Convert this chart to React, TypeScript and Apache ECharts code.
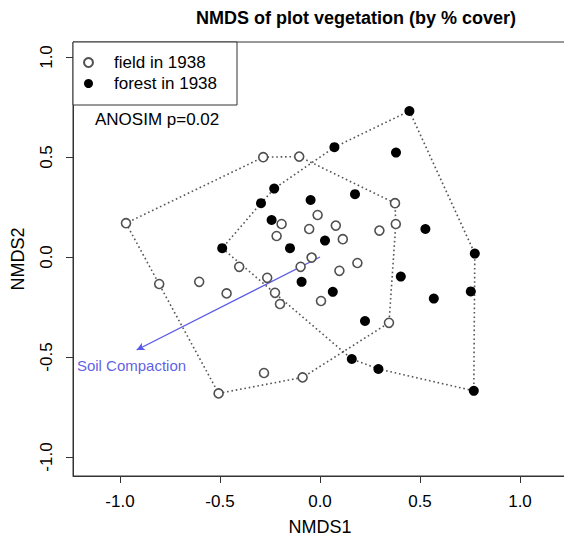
import React, { useEffect, useRef } from "react";
import * as echarts from "echarts";

// NMDS scores
const fieldPoints: [number, number][] = [
  [-0.970, 0.169], [-0.804, -0.135], [-0.604, -0.124], [-0.467, -0.182],
  [-0.404, -0.049], [-0.284, 0.499], [-0.104, 0.502], [-0.192, 0.165],
  [-0.012, 0.210], [-0.054, 0.140], [0.079, 0.157], [-0.217, 0.105],
  [0.114, 0.089], [-0.042, -0.003], [-0.097, -0.049], [0.097, -0.069],
  [-0.264, -0.104], [-0.225, -0.179], [-0.200, -0.235], [0.005, -0.220],
  [0.375, 0.269], [0.379, 0.165], [0.297, 0.132], [0.187, -0.030],
  [0.345, -0.329], [-0.087, -0.602], [-0.280, -0.580], [-0.507, -0.682],
];
const forestPoints: [number, number][] = [
  [0.072, 0.549], [-0.229, 0.342], [-0.295, 0.269], [-0.047, 0.285],
  [-0.242, 0.185], [0.025, 0.082], [-0.489, 0.044], [-0.150, 0.044],
  [-0.092, -0.124], [0.064, -0.174], [0.447, 0.730], [0.380, 0.522],
  [0.175, 0.314], [0.527, 0.140], [0.774, 0.017], [0.404, -0.098],
  [0.754, -0.172], [0.569, -0.208], [0.225, -0.320], [0.159, -0.510],
  [0.292, -0.560], [0.769, -0.669],
];
const soilCompaction: [number, number] = [-0.917, -0.465];
const soilLabelAt: [number, number] = [-0.9425, -0.5435];
const xTicks = [-1.0, -0.5, 0.0, 0.5, 1.0];
const yTicks = [-1.0, -0.5, 0.0, 0.5, 1.0];
const groupNames = ["field in 1938", "forest in 1938"];
const anosimText = "ANOSIM p=0.02";

function convexHull(pts: [number, number][]): [number, number][] {
  const p = [...pts].sort((a, b) => (a[0] - b[0]) || (a[1] - b[1]));
  const cross = (o: number[], a: number[], b: number[]) =>
    (a[0] - o[0]) * (b[1] - o[1]) - (a[1] - o[1]) * (b[0] - o[0]);
  const lower: [number, number][] = [];
  for (const q of p) {
    while (lower.length >= 2 && cross(lower[lower.length - 2], lower[lower.length - 1], q) <= 0) lower.pop();
    lower.push(q);
  }
  const upper: [number, number][] = [];
  for (let i = p.length - 1; i >= 0; i--) {
    const q = p[i];
    while (upper.length >= 2 && cross(upper[upper.length - 2], upper[upper.length - 1], q) <= 0) upper.pop();
    upper.push(q);
  }
  upper.pop();
  lower.pop();
  const h = lower.concat(upper);
  h.push(h[0]);
  return h;
}

const FONT = "'Liberation Sans', Arial, Helvetica, sans-serif";

export default function App() {
  const ref = useRef<HTMLDivElement>(null);
  useEffect(() => {
    if (!ref.current) return;
    const chart = echarts.init(ref.current, undefined, { renderer: "svg" });
    const hullStyle = { color: "#555", width: 1.6, type: [1.6, 2.8] as any };
    chart.setOption({
      animation: false,
      backgroundColor: "#fff",
      textStyle: { fontFamily: FONT },
      title: {
        text: "NMDS of plot vegetation (by % cover)",
        left: "center",
        top: 4,
        textStyle: { fontSize: 18, fontWeight: "bold", color: "#000", fontFamily: FONT },
      },
      legend: {
        data: groupNames,
        orient: "vertical",
        left: 73,
        top: 42,
        itemWidth: 9,
        itemHeight: 9,
        itemGap: 4,
        padding: [12, 20, 13, 10],
        borderColor: "#333",
        borderWidth: 1,
        backgroundColor: "#fff",
        selectedMode: false,
        textStyle: { fontSize: 17, color: "#000", lineHeight: 17, padding: [0, 0, 0, 16], fontFamily: FONT },
      },
      graphic: [
        {
          type: "text",
          left: 95,
          top: 111,
          style: { text: anosimText, fontSize: 17, fill: "#000", fontFamily: FONT },
        },
      ],
      grid: {
        left: 73, right: 73, top: 42, bottom: 61,
        show: true, borderColor: "#333", borderWidth: 1,
        containLabel: false, outerBoundsMode: "none",
      },
      xAxis: {
        type: "value",
        min: -1.235,
        max: 1.595,
        name: "NMDS1",
        nameLocation: "middle",
        nameGap: 42,
        nameTextStyle: { fontSize: 18, color: "#000", fontFamily: FONT, padding: [0, 72, 0, 0] },
        axisLine: { show: true, onZero: false, lineStyle: { color: "#333", width: 1 } },
        axisTick: { show: true, length: 7, customValues: xTicks, lineStyle: { color: "#333" } },
        axisLabel: {
          customValues: xTicks, margin: 17, fontSize: 17, color: "#000", fontFamily: FONT,
          formatter: (v: number) => v.toFixed(1),
        },
        splitLine: { show: false },
      },
      yAxis: {
        type: "value",
        min: -1.095,
        max: 1.075,
        name: "NMDS2",
        nameLocation: "middle",
        nameGap: 46,
        nameRotate: 90,
        nameTextStyle: { fontSize: 18, color: "#000", fontFamily: FONT },
        axisLine: { show: true, onZero: false, lineStyle: { color: "#333", width: 1 } },
        axisTick: { show: true, length: 7, customValues: yTicks, lineStyle: { color: "#333" } },
        axisLabel: {
          customValues: yTicks, margin: 18, rotate: 90, fontSize: 17, color: "#000", fontFamily: FONT,
          formatter: (v: number) => v.toFixed(1),
        },
        splitLine: { show: false },
      },
      series: [
        {
          name: "field hull", type: "line", data: convexHull(fieldPoints),
          symbol: "none", lineStyle: hullStyle, silent: true, z: 1,
        },
        {
          name: "forest hull", type: "line", data: convexHull(forestPoints),
          symbol: "none", lineStyle: hullStyle, silent: true, z: 1,
        },
        {
          name: "Soil Compaction", type: "scatter", data: [soilLabelAt],
          symbolSize: 1, itemStyle: { color: "transparent" }, z: 3,
          label: {
            show: true, position: "inside", formatter: "Soil Compaction",
            color: "#3535dd", fontSize: 15, fontFamily: FONT,
          },
          markLine: {
            silent: true, symbol: ["none", "arrow"], symbolSize: [6, 8],
            label: { show: false },
            lineStyle: { color: "#5a5ae8", width: 1.4, type: "solid" },
            data: [[{ coord: [0, 0] }, { coord: soilCompaction }]],
          },
        },
        {
          name: groupNames[0], type: "scatter", data: fieldPoints,
          symbol: "circle", symbolSize: 9, z: 5,
          itemStyle: { color: "#fff", borderColor: "#505050", borderWidth: 1.6, opacity: 1 },
        },
        {
          name: groupNames[1], type: "scatter", data: forestPoints,
          symbol: "circle", symbolSize: 10, z: 5,
          itemStyle: { color: "#000", borderColor: "#000", borderWidth: 0, opacity: 1 },
        },
      ],
    });
    return () => chart.dispose();
  }, []);
  return (
    <div style={{ position: "fixed", left: 0, top: 0, width: 564, height: 537, overflow: "hidden", background: "#fff" }}>
      <div ref={ref} style={{ width: 712, height: 537 }} />
    </div>
  );
}
